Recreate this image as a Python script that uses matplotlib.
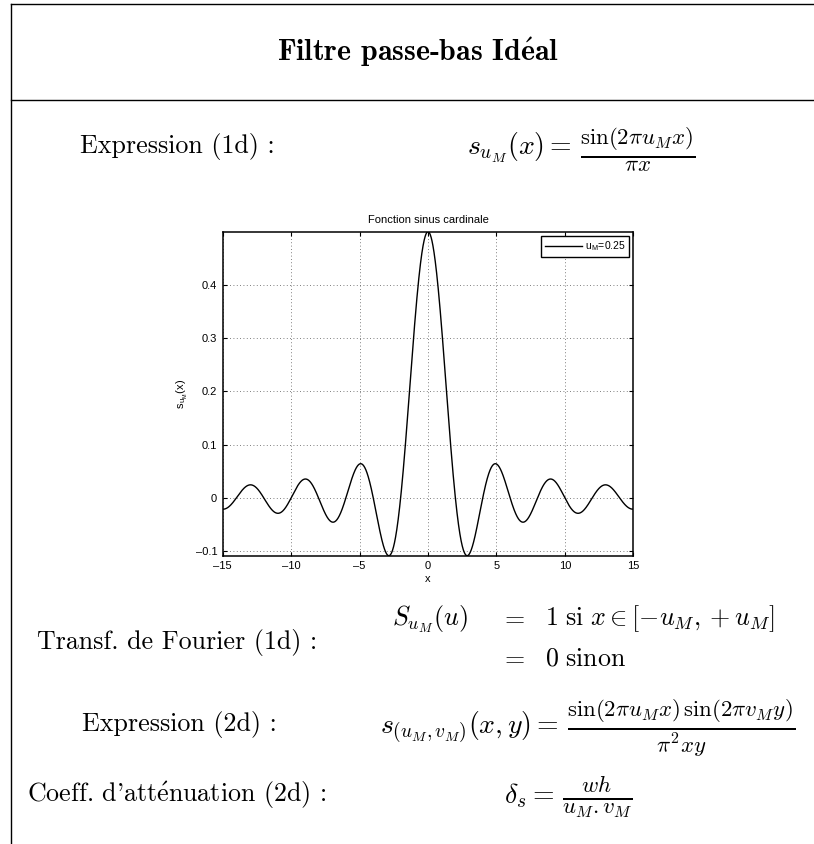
import numpy as np
import matplotlib
matplotlib.use("Agg")
import matplotlib.pyplot as plt
from matplotlib.lines import Line2D

plt.rcParams['mathtext.fontset'] = 'cm'

# curve parameters
u_M = 0.25
x_range = (-15, 15)
x_ticks = [-15, -10, -5, 0, 5, 10, 15]
y_ticks = [-0.1, 0, 0.1, 0.2, 0.3, 0.4]

# the slide texts (left column / right column)
title = r'Filtre passe-bas Id$\mathbf{\acute{e}}$al'
row_labels = ['Expression (1d) :', 'Transf. de Fourier (1d) :',
              'Expression (2d) :', r"Coeff. d'att$\mathrm{\acute{e}}$nuation (2d) :"]
expr_1d = [r'$s_{u_M}(x) =$', r'$\frac{\sin(2\pi u_M x)}{\pi x}$']
fourier_lhs = r'$S_{u_M}(u)$'
fourier_rhs = [r'$1\ \mathrm{si}\ x \in [-u_M, +u_M]$', r'$0\ \mathrm{sinon}$']
expr_2d = [r'$s_{(u_M,v_M)}(x,y) =$',
           r'$\frac{\sin(2\pi u_M x)\,\sin(2\pi v_M y)}{\pi^2 xy}$']
coeff_2d = [r'$\delta_s =$', r'$\frac{wh}{u_M . v_M}$']

W, H = 814, 844
fig = plt.figure(figsize=(W / 100, H / 100), dpi=100)


def fx(px):
    return px / W


def fy(py):
    return 1 - py / H


# slide frame
fig.add_artist(Line2D([fx(11), fx(11)], [fy(4), 0], color='black', lw=1.0))
fig.add_artist(Line2D([fx(11), 1], [fy(4), fy(4)], color='black', lw=1.0))
fig.add_artist(Line2D([fx(11), 1], [fy(100), fy(100)], color='black', lw=1.0))

fs = 18.7   # body text
fl = 20     # left part of the formulas
ff = 23.5   # fractions (LaTeX uses wider small-size fonts)
fig.text(fx(418), fy(52), title, fontfamily='cmb10', fontsize=21.5,
         ha='center', va='center')

label_y = [147, 642, 725, 795]
label_x = [177, 177, 179, 177]
for lab, lx, ly in zip(row_labels, label_x, label_y):
    fig.text(fx(lx), fy(ly), lab, fontfamily='cmr10', fontsize=fs,
             ha='center', va='center')


def formula(parts, x_split, y_base):
    fig.text(fx(x_split - 4), fy(y_base), parts[0], fontsize=fl, ha='right', va='baseline')
    fig.text(fx(x_split + 4), fy(y_base - 6), parts[1], fontsize=ff, ha='left', va='center')


formula(expr_1d, 576, 155)
formula(expr_2d, 563, 733)
formula(coeff_2d, 558, 803)

fig.text(fx(468), fy(625), fourier_lhs, fontsize=fs, ha='right', va='baseline')
for ly, rhs in zip([625, 665], fourier_rhs):
    fig.text(fx(513), fy(ly), r'$=$', fontsize=fs, ha='center', va='baseline')
    fig.text(fx(545), fy(ly), rhs, fontsize=fs, ha='left', va='baseline')

# sinc plot
ax = fig.add_axes([fx(222.7), fy(555.7), fx(633.3) - fx(222.7), fy(231.7) - fy(555.7)])
x = np.linspace(x_range[0], x_range[1], 3001)
y = 2 * u_M * np.sinc(2 * u_M * x)
ax.plot(x, y, color='black', lw=1.0, label=r'u$_{\mathregular{M}}$=%.2f' % u_M)

tf = 'Liberation Sans'
ax.set_xlim(*x_range)
ax.set_ylim(y.min(), y.max())
ax.set_xticks(x_ticks)
ax.set_yticks(y_ticks)
ax.set_xticklabels([str(t).replace('-', '\u2013') for t in x_ticks], fontfamily=tf, fontsize=8)
ax.set_yticklabels([('%g' % t).replace('-', '\u2013') for t in y_ticks], fontfamily=tf, fontsize=8)
ax.tick_params(direction='in', length=3, width=0.8, top=True, right=True, pad=4)
ax.grid(True, linestyle=(0, (1, 3)), color='#555555', lw=0.6)
for s in ax.spines.values():
    s.set_linewidth(1.1)

ax.set_title('Fonction sinus cardinale', fontfamily=tf, fontsize=8, pad=6)
ax.set_xlabel('x', fontfamily=tf, fontsize=8, labelpad=2)
ax.set_ylabel(r's$_{\mathregular{u_M}}$(x)', fontfamily=tf, fontsize=8, labelpad=4)

leg = ax.legend(loc='upper right', prop={'family': tf, 'size': 7.5}, fancybox=False,
                framealpha=1, edgecolor='black', handlelength=3.5, borderaxespad=0.4,
                borderpad=0.35, handletextpad=0.3)
leg.get_frame().set_linewidth(1.0)

fig.savefig('out.png', dpi=100)
